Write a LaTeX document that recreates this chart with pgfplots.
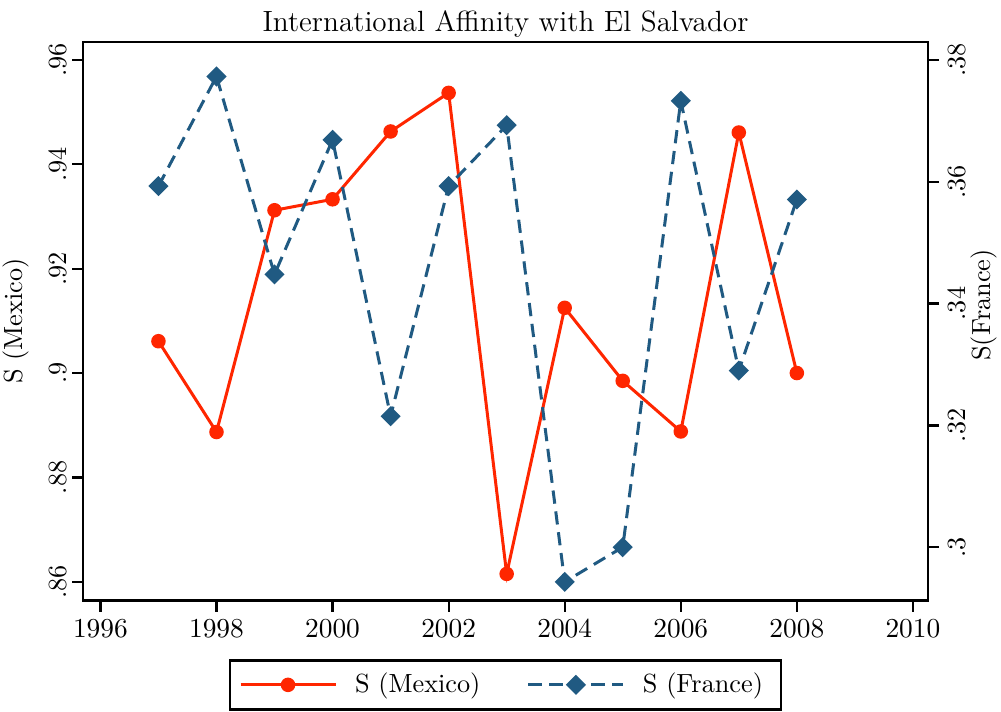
\documentclass[border=0pt]{standalone}
\usepackage{pgfplots}
\pgfplotsset{compat=1.18}
\definecolor{mexred}{RGB}{255,38,0}
\definecolor{frblue}{RGB}{32,90,130}
\begin{document}
\begin{tikzpicture}
\useasboundingbox (-33.2pt,-44.2pt) rectangle (367.2pt,240.2pt);
\pgfplotsset{
  common/.style={
    scale only axis, width=338pt, height=223.4pt,
    xmin=1995.70, xmax=2010.26,
    tick align=outside, major tick length=4.4pt,
    every tick/.style={line width=0.9pt, black},
    axis line style={line width=0.9pt},
    ticklabel style={font=\fontsize{10.5}{12}\selectfont},
    label style={font=\fontsize{10.5}{12}\selectfont},
    legend image code/.code={\draw[mark repeat=2,mark phase=2,##1] plot coordinates {(0pt,0pt) (19pt,0pt) (38pt,0pt)}; \path (41.6pt,0pt);},
  },
  mexstyle/.style={color=mexred, line width=1.2pt, mark=*, mark size=2.3pt, mark options={solid, fill=mexred}},
  frstyle/.style={color=frblue, line width=1.2pt, dash pattern=on 5.3pt off 3.1pt, mark=square*, mark size=2.25pt, mark options={solid, fill=frblue, rotate=45}},
}
\begin{axis}[common,
  ymin=0.8564, ymax=0.96345,
  tick pos=left,
  xtick={1996,1998,...,2010},
  xticklabel style={/pgf/number format/1000 sep=},
  ytick={0.86,0.88,0.90,0.92,0.94,0.96},
  yticklabels={.86,.88,.9,.92,.94,.96},
  yticklabel style={rotate=90, anchor=south},
  yticklabel shift=-1.5pt,
  ylabel={S (Mexico)},
  ylabel style={at={(axis description cs:-0.0793,0.5)}, anchor=center},
  title={International Affinity with El Salvador},
  title style={at={(axis description cs:0.5,1)}, anchor=base, yshift=-1.8pt, font=\fontsize{11.7}{14}\selectfont},
]
\addplot[mexstyle] coordinates {
(1997,0.9061) (1998,0.8887) (1999,0.9312) (2000,0.9333) (2001,0.9463) (2002,0.9537)
(2003,0.8615) (2004,0.9125) (2005,0.8985) (2006,0.8888) (2007,0.9461) (2008,0.9000)
};
\end{axis}
\begin{axis}[common,
  ymin=0.29124, ymax=0.38296,
  axis x line=none, axis y line*=right,
  ytick={0.30,0.32,0.34,0.36,0.38},
  yticklabels={.3,.32,.34,.36,.38},
  yticklabel style={rotate=90, anchor=north},
  ylabel={S(France)},
  ylabel style={at={(axis description cs:1.0657,0.529)}, anchor=center},
  legend columns=2,
  legend style={at={(0.5,0)}, anchor=north, yshift=-23.4pt, draw=black, line width=1.1pt,
    inner xsep=3.6pt, inner ysep=3.1pt, font=\fontsize{10.5}{12}\selectfont,
    nodes={inner xsep=3.6pt, inner ysep=2pt},
    /tikz/every even column/.append style={column sep=15pt}},
]
\addlegendimage{mexstyle}
\addlegendentry{S (Mexico)}
\addplot[frstyle] coordinates {
(1997,0.3593) (1998,0.3773) (1999,0.3448) (2000,0.3669) (2001,0.3215) (2002,0.3593)
(2003,0.3693) (2004,0.2943) (2005,0.3000) (2006,0.3733) (2007,0.3290) (2008,0.3571)
};
\addlegendentry{S (France)}
\end{axis}
\end{tikzpicture}
\end{document}
